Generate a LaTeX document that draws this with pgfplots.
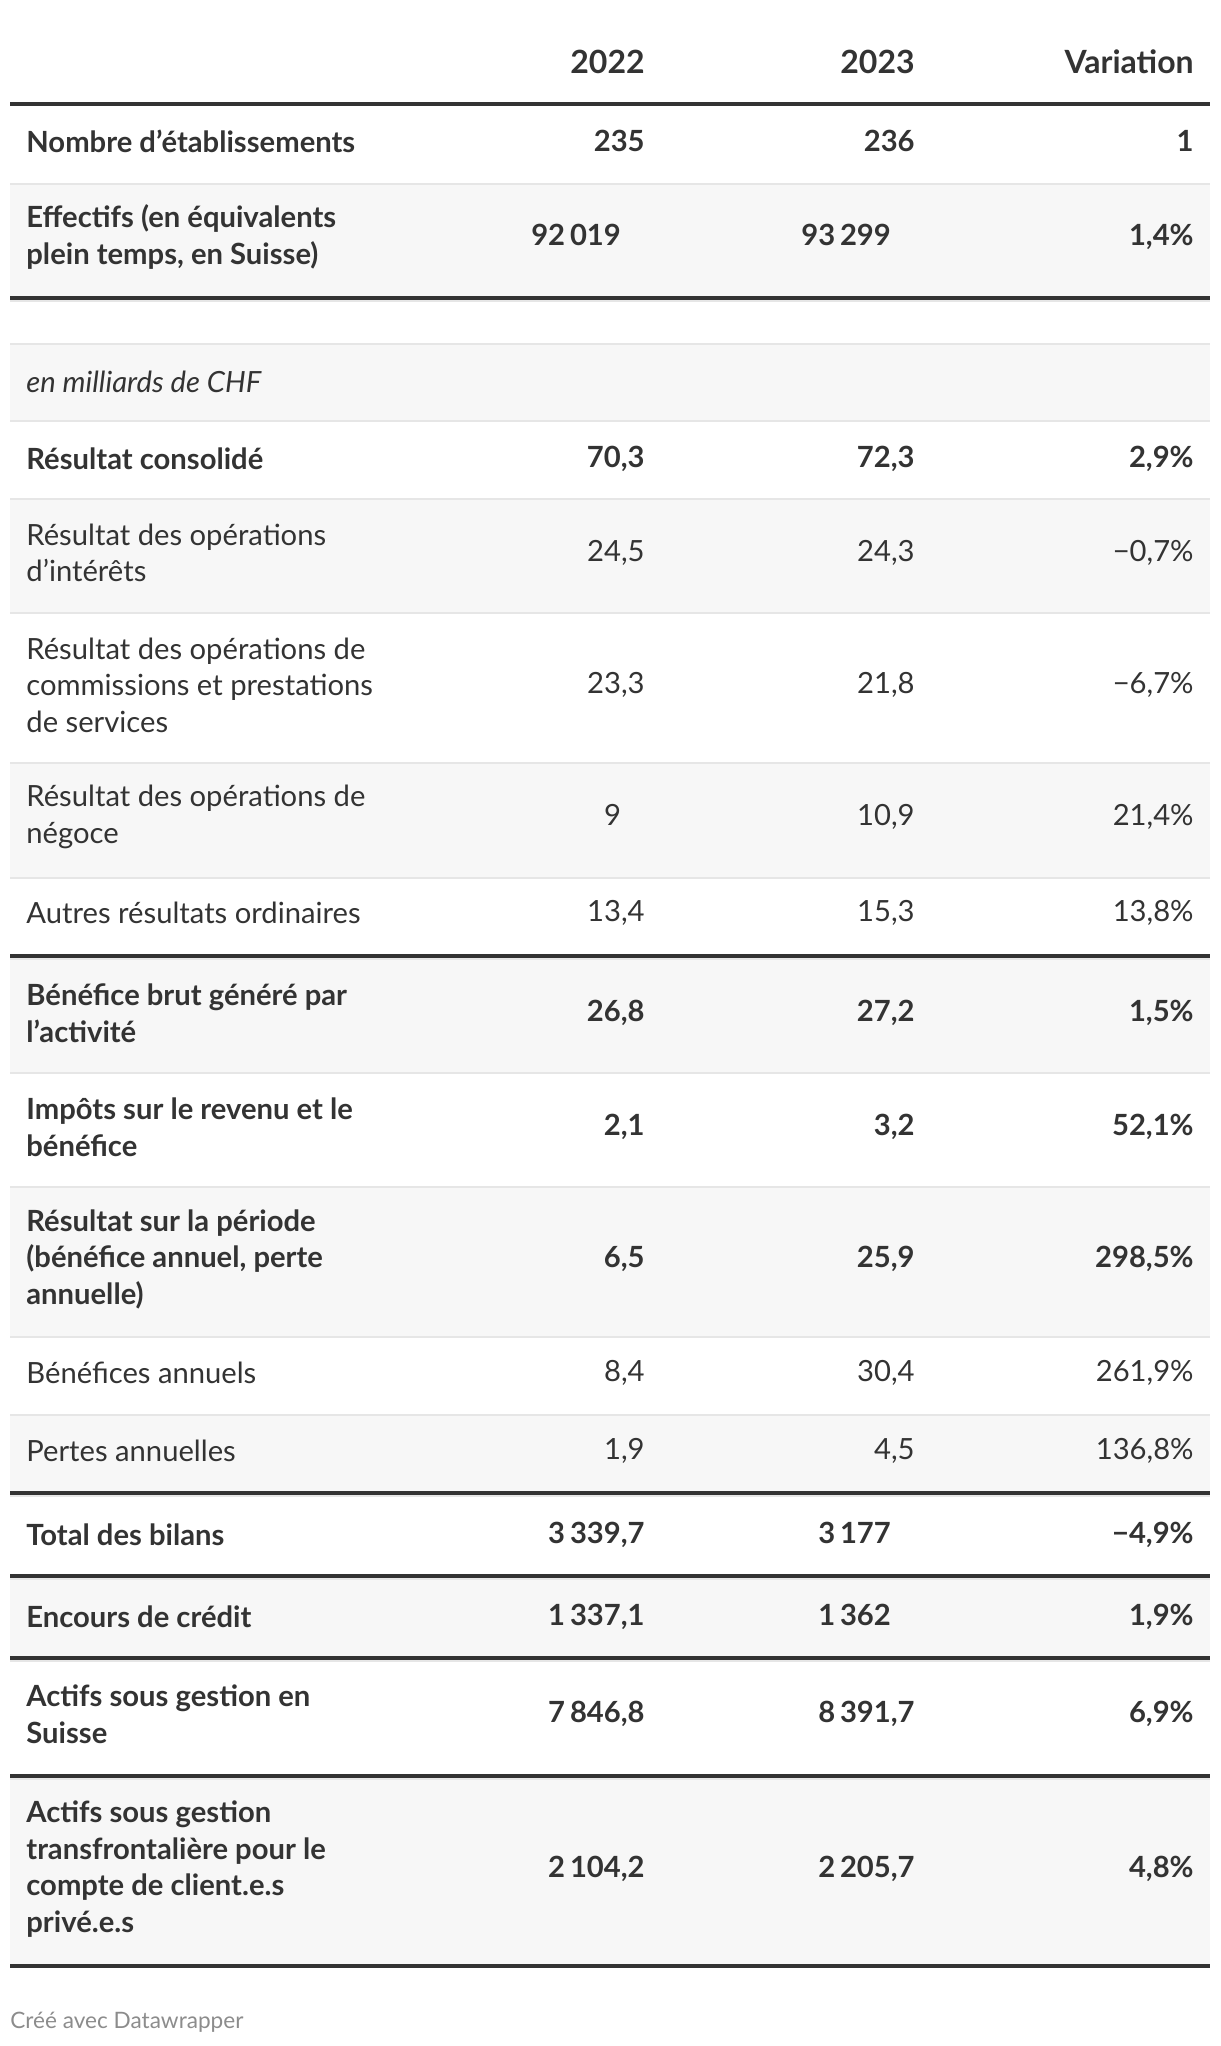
\documentclass[border=0pt]{standalone}
\usepackage{pgfplots}
\pgfplotsset{compat=1.18}
\usepackage{pgfplotstable}
\usepackage{fontspec}
\setmainfont{Lato}
\definecolor{txt}{HTML}{333333}
\definecolor{rowbg}{HTML}{F7F7F7}
\definecolor{sepcol}{HTML}{E6E6E6}
\definecolor{rulecol}{HTML}{333333}
\definecolor{foot}{HTML}{8C8C8C}
\newcommand\nl{\\}
\newcommand\ph{\phantom{,0}}

% header: y (px from top); 2022; 2023; variation
\pgfplotstableread[col sep=semicolon]{
y;a;b;c
62;2022;2023;Variation
}\headrow

% rows in bold: y (px from top); label; 2022; 2023; variation
\pgfplotstableread[col sep=semicolon]{
y;lab;a;b;c
141;Nombre d’établissements;235;236;1
237;Effectifs (en équivalents\nl plein temps, en Suisse);92\,019\ph;93\,299\ph;1,4\%
459;Résultat consolidé;70,3;72,3;2,9\%
1013;Bénéfice brut généré par\nl l’activité;26,8;27,2;1,5\%
1127;Impôts sur le revenu et le\nl bénéfice;2,1;3,2;52,1\%
1259;Résultat sur la période\nl (bénéfice annuel, perte\nl annuelle);6,5;25,9;298,5\%
1535;Total des bilans;3\,339,7;3\,177\ph;−4,9\%
1617;Encours de crédit;1\,337,1;1\,362\ph;1,9\%
1714;Actifs sous gestion en\nl Suisse;7\,846,8;8\,391,7;6,9\%
1869;Actifs sous gestion\nl transfrontalière pour le\nl compte de client.e.s\nl privé.e.s;2\,104,2;2\,205,7;4,8\%
}\boldrows

% rows in regular weight
\pgfplotstableread[col sep=semicolon]{
y;lab;a;b;c
382;\itshape en milliards de CHF;;;
553;Résultat des opérations\nl d’intérêts;24,5;24,3;−0,7\%
685;Résultat des opérations de\nl commissions et prestations\nl de services;23,3;21,8;−6,7\%
817;Résultat des opérations de\nl négoce;9\ph;10,9;21,4\%
913;Autres résultats ordinaires;13,4;15,3;13,8\%
1373;Bénéfices annuels;8,4;30,4;261,9\%
1451;Pertes annuelles;1,9;4,5;136,8\%
}\regrows

\newcommand\rowfill[2]{\addplot[fill=rowbg,draw=none] coordinates {(10,#1) (1210,#1) (1210,#2) (10,#2)};}
\newcommand\sepline[1]{\addplot[line width=1pt,draw=sepcol] coordinates {(10,#1) (1210,#1)};}
\newcommand\ruleline[1]{\addplot[line width=2pt,draw=rulecol] coordinates {(10,#1) (1210,#1)};}

\pgfplotsset{
  txth/.style={draw=none, nodes near coords, point meta=explicit symbolic,
    nodes near coords style={text=txt, inner sep=0pt, anchor=east,
      font=\fontsize{16}{19}\selectfont\bfseries}},
  txtb/.style={draw=none, nodes near coords, point meta=explicit symbolic,
    nodes near coords style={text=txt, inner sep=0pt, align=left,
      font=\fontsize{14.6}{18.25}\selectfont\bfseries}},
  txtr/.style={draw=none, nodes near coords, point meta=explicit symbolic,
    nodes near coords style={text=txt, inner sep=0pt, align=left,
      font=\fontsize{14.6}{18.25}\selectfont}},
}

\begin{document}
\begin{tikzpicture}
\begin{axis}[
  width=610pt, height=1023pt, scale only axis,
  xmin=0, xmax=1220, ymin=0, ymax=2046, y dir=reverse,
  hide axis, clip=false,
  every axis plot/.append style={mark=none},
]
\addplot[draw=none] coordinates {(0,0) (1220,2046)};
% shaded rows
\rowfill{183}{296}
\rowfill{343}{420}
\rowfill{498}{612}
\rowfill{762}{877}
\rowfill{956}{1072}
\rowfill{1186}{1336}
\rowfill{1414}{1493}
\rowfill{1576}{1658}
\rowfill{1776}{1966}
% light separators
\sepline{184}
\sepline{301}
\sepline{344}
\sepline{421}
\sepline{499}
\sepline{613}
\sepline{763}
\sepline{878}
\sepline{959}
\sepline{1073}
\sepline{1187}
\sepline{1337}
\sepline{1415}
\sepline{1496}
\sepline{1579}
\sepline{1661}
\sepline{1779}
% dark rules
\ruleline{104}
\ruleline{298}
\ruleline{956}
\ruleline{1493}
\ruleline{1576}
\ruleline{1658}
\ruleline{1776}
\ruleline{1966}
% header
\addplot[txth] table[x expr=645, y=y, meta=a] {\headrow};
\addplot[txth] table[x expr=915, y=y, meta=b] {\headrow};
\addplot[txth] table[x expr=1194, y=y, meta=c] {\headrow};
% bold text
\addplot[txtb, nodes near coords style={anchor=west}] table[x expr=26, y=y, meta=lab] {\boldrows};
\addplot[txtb, nodes near coords style={anchor=east}] table[x expr=645, y=y, meta=a] {\boldrows};
\addplot[txtb, nodes near coords style={anchor=east}] table[x expr=915, y=y, meta=b] {\boldrows};
\addplot[txtb, nodes near coords style={anchor=east}] table[x expr=1194, y=y, meta=c] {\boldrows};
% regular text
\addplot[txtr, nodes near coords style={anchor=west}] table[x expr=26, y=y, meta=lab] {\regrows};
\addplot[txtr, nodes near coords style={anchor=east}] table[x expr=645, y=y, meta=a] {\regrows};
\addplot[txtr, nodes near coords style={anchor=east}] table[x expr=915, y=y, meta=b] {\regrows};
\addplot[txtr, nodes near coords style={anchor=east}] table[x expr=1194, y=y, meta=c] {\regrows};
\node[anchor=west, text=foot, inner sep=0pt, font=\fontsize{11.3}{13}\selectfont]
  at (axis cs:10,2022) {Créé avec Datawrapper};
\end{axis}
\end{tikzpicture}
\end{document}
